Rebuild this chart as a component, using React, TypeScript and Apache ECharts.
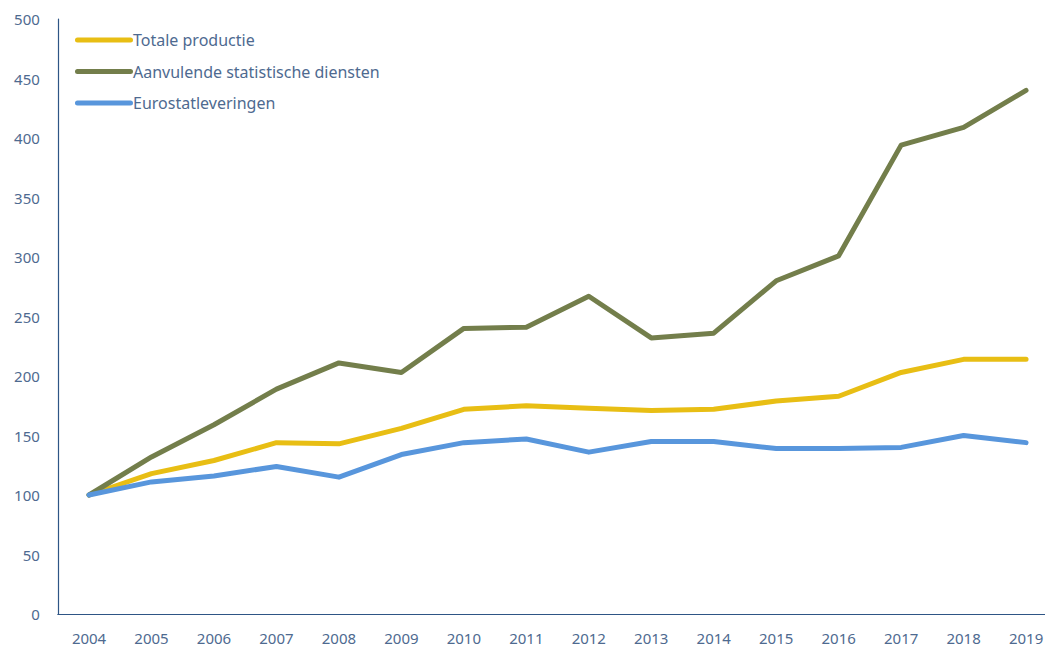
import React, { useEffect, useRef } from "react";
import * as echarts from "echarts";

const years = ["2004","2005","2006","2007","2008","2009","2010","2011","2012","2013","2014","2015","2016","2017","2018","2019"];
const totaleProductie = [100, 118, 129, 144, 143, 156, 172, 175, 173, 171, 172, 179, 183, 203, 214, 214];
const aanvulendeDiensten = [100, 132, 159, 189, 211, 203, 240, 241, 267, 232, 236, 280, 301, 394, 409, 440];
const eurostatLeveringen = [100, 111, 116, 124, 115, 134, 144, 147, 136, 145, 145, 139, 139, 140, 150, 144];

const seriesNames = ["Totale productie", "Aanvulende statistische diensten", "Eurostatleveringen"];
const colors = ["#E8BE14", "#737E4B", "#5896DC"];

const textColor = "#4E6A90";
const axisColor = "#2E5585";
const font = "'Source Sans Pro', 'Noto Sans', sans-serif";

export default function App() {
  const ref = useRef<HTMLDivElement>(null);
  useEffect(() => {
    if (!ref.current) return;
    const chart = echarts.init(ref.current, null, { renderer: "svg" });
    const data = [totaleProductie, aanvulendeDiensten, eurostatLeveringen];
    chart.setOption({
      animation: false,
      textStyle: { fontFamily: font },
      legend: {
        orient: "vertical",
        left: 70,
        top: 27,
        itemGap: 15.5,
        itemWidth: 58,
        itemHeight: 18,
        icon: "path://M2.5,0 L55.5,0 A2.5,2.5 0 0 1 55.5,5 L2.5,5 A2.5,2.5 0 0 1 2.5,0 Z",
        textStyle: { color: textColor, fontSize: 16, fontFamily: font, padding: [0, 0, 0, -5] },
        data: seriesNames,
      },
      grid: { left: 57.8, right: 2.7, top: 19, bottom: 32, containLabel: false },
      xAxis: {
        type: "category",
        data: years,
        boundaryGap: true,
        axisLine: { lineStyle: { color: axisColor, width: 1.2 } },
        axisTick: { show: false },
        axisLabel: { color: textColor, fontSize: 15, margin: 16, fontFamily: font },
      },
      yAxis: {
        type: "value",
        min: 0,
        max: 500,
        interval: 50,
        axisLine: { show: true, lineStyle: { color: axisColor, width: 1.2 } },
        axisTick: { show: false },
        splitLine: { show: false },
        axisLabel: { color: textColor, fontSize: 15, margin: 18, fontFamily: font },
      },
      series: seriesNames.map((name, i) => ({
        name,
        type: "line",
        data: data[i],
        symbol: "none",
        color: colors[i],
        lineStyle: { width: 5, color: colors[i], cap: "round", join: "round" },
      })),
    });
    return () => chart.dispose();
  }, []);
  return (
    <div style={{ position: "fixed", left: 0, top: 0, width: 1045, height: 646, overflow: "hidden", background: "#fff" }}>
      <div ref={ref} style={{ position: "absolute", left: 0, top: 0, width: 1060, height: 646 }} />
    </div>
  );
}
